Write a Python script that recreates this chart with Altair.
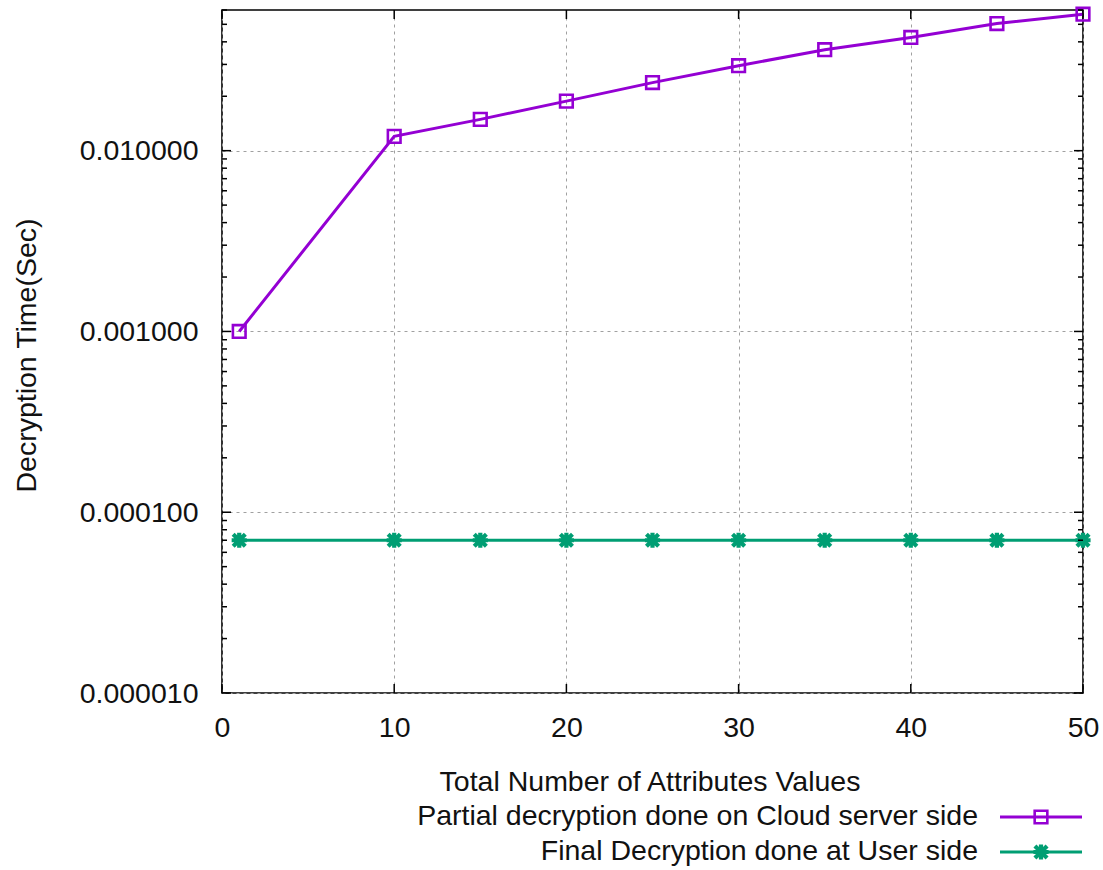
import altair as alt
import pandas as pd

# Measured decryption times (seconds) versus number of attribute values
attr_counts = [1, 10, 15, 20, 25, 30, 35, 40, 45, 50]
cloud_times = [0.00100, 0.0120, 0.0149, 0.0188, 0.0238, 0.0295, 0.0362, 0.0423, 0.0505, 0.0569]
user_times = [0.00007, 0.00007, 0.00007, 0.00007, 0.00007, 0.00007, 0.00007, 0.00007, 0.00007, 0.00007]

series_names = [
    "Partial decryption done on Cloud server side",
    "Final Decryption done at User side",
]
series_colors = ["#9400D3", "#009E73"]
asterisk = "M-1,0L1,0M0,-1L0,1M-0.8,-0.8L0.8,0.8M-0.8,0.8L0.8,-0.8"
series_shapes = ["square", asterisk]
series_sizes = [160, 230]
series_strokes = [2.6, 4.2]

x_tick_values = [0, 10, 20, 30, 40, 50]
y_decades = [1e-5, 1e-4, 1e-3, 1e-2]
y_top = 0.06

W, H = 861, 683
FONT = "Liberation Sans"
FS = 28.5

rows = []
for x, v in zip(attr_counts, cloud_times):
    rows.append({"x": x, "y": v, "series": series_names[0]})
for x, v in zip(attr_counts, user_times):
    rows.append({"x": x, "y": v, "series": series_names[1]})
df = pd.DataFrame(rows)

x_scale = alt.Scale(domain=[0, 50], nice=False, zero=False)
y_scale = alt.Scale(type="log", domain=[1e-5, y_top], nice=False)

x_enc = alt.X(
    "x:Q",
    scale=x_scale,
    axis=alt.Axis(
        values=x_tick_values, format="d", title="Total Number of Attributes Values",
        grid=True, gridDash=[3, 4], gridColor="#a0a0a0", gridWidth=1,
        ticks=False, tickSize=0, domain=False,
        labelFontSize=FS, labelPadding=20, labelFlush=False, labelOverlap=False,
        labelColor="#111111",
        titleFontSize=FS, titleFontWeight="normal", titleColor="#111111",
        titleX=W / 2 - 3, titleY=97, titleBaseline="alphabetic", titleAlign="center",
    ),
)
y_enc = alt.Y(
    "y:Q",
    scale=y_scale,
    axis=alt.Axis(
        values=y_decades, format=".6f", title="Decryption Time(Sec)",
        grid=True, gridDash=[3, 4], gridColor="#a0a0a0", gridWidth=1,
        ticks=False, tickSize=0, domain=False,
        labelFontSize=FS, labelPadding=24, labelFlush=False, labelOverlap=False,
        labelBaseline="middle", labelColor="#111111",
        titleFontSize=FS, titleFontWeight="normal", titleColor="#111111",
        titleAngle=270, titleX=-187, titleY=345,
        titleBaseline="alphabetic", titleAlign="center",
    ),
)

color_enc = alt.Color("series:N", scale=alt.Scale(domain=series_names, range=series_colors), legend=None)

base = alt.Chart(df)
lines = base.mark_line(strokeWidth=3).encode(x=x_enc, y=y_enc, color=color_enc, detail="series:N")
point_layers = []
for name, shp, sz, sw in zip(series_names, series_shapes, series_sizes, series_strokes):
    point_layers.append(
        base.transform_filter(alt.datum.series == name)
        .mark_point(shape=shp, filled=False, strokeWidth=sw, size=sz, opacity=1)
        .encode(x=x_enc, y=y_enc, color=color_enc)
    )

# Inward tick marks on all four sides of the frame
y_minor = [m * d for d in y_decades for m in range(2, 10) if m * d <= y_top]
ytick_df = pd.DataFrame(
    [{"y": v, "len": 9} for v in y_decades] + [{"y": v, "len": 5} for v in y_minor]
)
xtick_df = pd.DataFrame({"x": x_tick_values})

tick_style = dict(color="black", strokeWidth=1.5)
left_major = alt.Chart(ytick_df).transform_filter("datum.len == 9").mark_rule(**tick_style).encode(
    y=y_enc, x=alt.value(0), x2=alt.value(9))
left_minor = alt.Chart(ytick_df).transform_filter("datum.len == 5").mark_rule(**tick_style).encode(
    y=y_enc, x=alt.value(0), x2=alt.value(5))
right_major = alt.Chart(ytick_df).transform_filter("datum.len == 9").mark_rule(**tick_style).encode(
    y=y_enc, x=alt.value(W - 9), x2=alt.value(W))
right_minor = alt.Chart(ytick_df).transform_filter("datum.len == 5").mark_rule(**tick_style).encode(
    y=y_enc, x=alt.value(W - 5), x2=alt.value(W))
bottom_ticks = alt.Chart(xtick_df).mark_rule(**tick_style).encode(
    x=x_enc, y=alt.value(H - 9), y2=alt.value(H))
top_ticks = alt.Chart(xtick_df).mark_rule(**tick_style).encode(
    x=x_enc, y=alt.value(0), y2=alt.value(9))

# Key below the plot: label on the left, line sample with marker on the right
legend_layers = []
key_rows = [807, 842]
for name, col, shp, sz, sw, ky in zip(series_names, series_colors, series_shapes,
                                      series_sizes, series_strokes, key_rows):
    kdf = pd.DataFrame({"label": [name]})
    legend_layers.append(
        alt.Chart(kdf).mark_text(align="right", baseline="alphabetic", fontSize=FS, font=FONT,
                                 color="#111111").encode(
            text="label:N", x=alt.value(756), y=alt.value(ky + 8))
    )
    legend_layers.append(
        alt.Chart(kdf).mark_rule(color=col, strokeWidth=3).encode(
            x=alt.value(778), x2=alt.value(860), y=alt.value(ky))
    )
    legend_layers.append(
        alt.Chart(kdf).mark_point(shape=shp, filled=False, color=col, strokeWidth=sw,
                                  size=sz, opacity=1).encode(
            x=alt.value(819), y=alt.value(ky))
    )

chart = alt.layer(
    lines, *point_layers, left_major, left_minor, right_major, right_minor, bottom_ticks, top_ticks,
    *legend_layers,
).properties(
    width=W, height=H,
    autosize=alt.AutoSizeParams(type="none"),
    padding={"left": 222, "top": 10, "right": 20, "bottom": 177},
).configure(
    font=FONT,
).configure_view(
    stroke="black", strokeWidth=1.6,
)

chart.save("out.html", embed_options={"renderer": "svg", "actions": False})
